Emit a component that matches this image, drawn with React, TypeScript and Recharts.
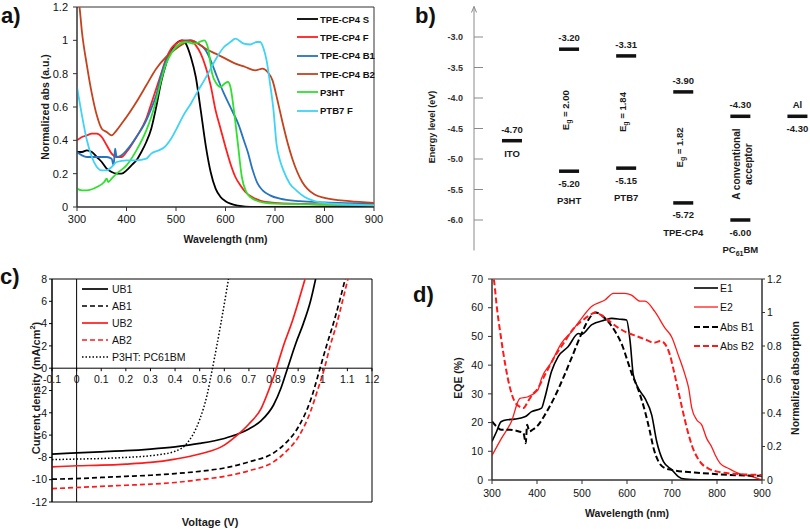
import React from "react";
import {
  LineChart,
  Line,
  ScatterChart,
  Scatter,
  XAxis,
  YAxis,
  Legend,
  ReferenceArea,
  ReferenceLine
} from "recharts";

const FONT = "'Liberation Sans', Arial, Helvetica, sans-serif";

type Pair = [number, number];

// ---------- a) normalized absorption ----------
const wlTicks = [300, 400, 500, 600, 700, 800, 900];
const absTicks = [0, 0.2, 0.4, 0.6, 0.8, 1, 1.2];
const filmNames = ["TPE-CP4 S", "TPE-CP4 F", "TPE-CP4 B1", "TPE-CP4 B2", "P3HT", "PTB7 F"];

const absTpeS: Pair[] = [
  [300, 0.33], [310, 0.33], [320, 0.34], [330, 0.33], [340, 0.3], [350, 0.27], [360, 0.23],
  [370, 0.21], [380, 0.2], [390, 0.2], [400, 0.22], [410, 0.25], [420, 0.28], [430, 0.33],
  [440, 0.39], [450, 0.47], [460, 0.6], [470, 0.75], [480, 0.86], [490, 0.94], [500, 0.98],
  [512, 1.0], [520, 0.98], [530, 0.9], [540, 0.78], [550, 0.58], [560, 0.37], [570, 0.21],
  [580, 0.11], [590, 0.06], [600, 0.035], [610, 0.02], [625, 0.008], [640, 0.002], [660, 0],
  [750, 0], [900, 0]
];
const absTpeF: Pair[] = [
  [300, 0.4], [310, 0.42], [320, 0.43], [330, 0.44], [340, 0.44], [350, 0.42], [360, 0.37],
  [370, 0.32], [380, 0.3], [390, 0.3], [400, 0.33], [420, 0.42], [440, 0.53], [450, 0.62],
  [460, 0.71], [470, 0.8], [480, 0.89], [490, 0.95], [500, 0.98], [515, 1.0], [527, 1.0],
  [540, 0.97], [550, 0.92], [560, 0.84], [570, 0.73], [580, 0.58], [590, 0.47], [600, 0.36],
  [610, 0.26], [620, 0.18], [630, 0.13], [640, 0.09], [660, 0.05], [680, 0.03], [700, 0.025],
  [800, 0.015], [900, 0.01]
];
const absTpeB1: Pair[] = [
  [300, 0.33], [310, 0.31], [320, 0.3], [340, 0.3], [360, 0.3], [370, 0.29], [374, 0.25],
  [377, 0.35], [380, 0.3], [390, 0.31], [400, 0.34], [420, 0.42], [440, 0.52], [450, 0.59],
  [460, 0.67], [470, 0.79], [480, 0.88], [490, 0.93], [500, 0.96], [515, 0.99], [530, 1.0],
  [545, 0.98], [560, 0.94], [570, 0.88], [583, 0.78], [597, 0.68], [613, 0.58], [627, 0.49],
  [637, 0.4], [645, 0.33], [655, 0.22], [665, 0.14], [675, 0.1], [690, 0.07], [710, 0.05],
  [750, 0.035], [800, 0.028], [900, 0.02]
];
const absTpeB2: Pair[] = [
  [300, 1.25], [305, 1.2], [310, 1.05], [320, 0.85], [330, 0.68], [340, 0.55], [350, 0.47],
  [360, 0.45], [370, 0.43], [380, 0.46], [390, 0.5], [400, 0.54], [420, 0.63], [440, 0.73],
  [460, 0.83], [480, 0.9], [500, 0.95], [515, 0.98], [530, 1.0], [545, 0.98], [560, 0.95],
  [580, 0.92], [600, 0.89], [620, 0.86], [640, 0.84], [660, 0.82], [675, 0.83], [685, 0.81],
  [695, 0.76], [705, 0.64], [715, 0.51], [725, 0.39], [735, 0.29], [745, 0.21], [755, 0.15],
  [765, 0.11], [780, 0.075], [800, 0.055], [850, 0.035], [900, 0.025]
];
const absP3ht: Pair[] = [
  [300, 0.11], [310, 0.1], [320, 0.1], [340, 0.12], [355, 0.15], [360, 0.17], [363, 0.15],
  [370, 0.17], [380, 0.2], [400, 0.25], [420, 0.34], [440, 0.46], [450, 0.54], [460, 0.64],
  [470, 0.76], [480, 0.86], [490, 0.92], [500, 0.96], [520, 0.99], [537, 0.98], [557, 1.0],
  [565, 0.95], [573, 0.8], [582, 0.74], [590, 0.72], [598, 0.74], [605, 0.75], [610, 0.72],
  [617, 0.58], [625, 0.38], [633, 0.18], [642, 0.09], [650, 0.06], [677, 0.026], [700, 0.02],
  [800, 0.015], [900, 0.01]
];
const absPtb7: Pair[] = [
  [300, 0.72], [310, 0.55], [320, 0.4], [330, 0.3], [340, 0.24], [350, 0.22], [360, 0.22],
  [370, 0.24], [380, 0.27], [400, 0.28], [420, 0.28], [440, 0.29], [450, 0.32], [465, 0.34],
  [477, 0.36], [490, 0.41], [503, 0.48], [515, 0.55], [530, 0.62], [545, 0.7], [557, 0.76],
  [570, 0.83], [583, 0.9], [597, 0.96], [610, 0.99], [620, 1.01], [637, 0.98], [650, 0.975],
  [663, 0.99], [670, 0.99], [677, 0.95], [683, 0.88], [690, 0.74], [697, 0.58], [703, 0.38],
  [710, 0.28], [717, 0.22], [730, 0.14], [743, 0.1], [760, 0.06], [780, 0.035], [800, 0.025],
  [850, 0.015], [900, 0.01]
];

// ---------- b) energy levels ----------
const levelNames = ["ITO", "P3HT", "PTB7", "TPE-CP4", "PC61BM", "Al"];
const lumoLevels = [null, -3.2, -3.31, -3.9, -4.3, null];
const homoLevels = [null, -5.2, -5.15, -5.72, -6.0, null];
const electrodeLevels = [-4.7, null, null, null, null, -4.3];
const acceptorNote = ["A conventional", "acceptor"];
const energyTicks = [-3.0, -3.5, -4.0, -4.5, -5.0, -5.5, -6.0];

// ---------- c) J-V ----------
const voltTicks = [-0.1, 0, 0.1, 0.2, 0.3, 0.4, 0.5, 0.6, 0.7, 0.8, 0.9, 1.0, 1.1, 1.2];
const currentTicks = [-12, -10, -8, -6, -4, -2, 0, 2, 4, 6, 8];
const deviceNames = ["UB1", "AB1", "UB2", "AB2", "P3HT: PC61BM"];

const jvUB1: Pair[] = [
  [-0.1, -7.7], [0, -7.6], [0.1, -7.5], [0.2, -7.4], [0.3, -7.25], [0.4, -7.05], [0.5, -6.75],
  [0.6, -6.3], [0.65, -5.95], [0.7, -5.45], [0.75, -4.7], [0.8, -3.3], [0.83, -1.8], [0.857, 0],
  [0.89, 2.2], [0.921, 4], [0.95, 6], [0.971, 8]
];
const jvAB1: Pair[] = [
  [-0.1, -9.95], [0, -9.9], [0.1, -9.8], [0.2, -9.7], [0.3, -9.6], [0.4, -9.45], [0.5, -9.25],
  [0.6, -8.95], [0.7, -8.4], [0.8, -7.6], [0.85, -6.7], [0.9, -5.3], [0.95, -2.9], [0.989, 0],
  [1.015, 2], [1.043, 4], [1.068, 6], [1.091, 8]
];
const jvUB2: Pair[] = [
  [-0.1, -8.85], [0, -8.75], [0.1, -8.7], [0.2, -8.6], [0.3, -8.45], [0.4, -8.15], [0.5, -7.7],
  [0.6, -6.9], [0.65, -6.05], [0.7, -5.0], [0.75, -3.6], [0.78, -2.0], [0.812, 0], [0.84, 2],
  [0.873, 4], [0.9, 5.9], [0.928, 8]
];
const jvAB2: Pair[] = [
  [-0.1, -10.8], [0, -10.7], [0.1, -10.6], [0.2, -10.5], [0.3, -10.4], [0.4, -10.25], [0.5, -10.0],
  [0.6, -9.7], [0.7, -9.2], [0.8, -8.4], [0.85, -7.5], [0.9, -6.2], [0.95, -3.9], [0.98, -1.9],
  [1.007, 0], [1.03, 2], [1.057, 4], [1.08, 6], [1.102, 8]
];
const jvP3htPcbm: Pair[] = [
  [-0.1, -8.2], [0, -8.15], [0.1, -8.1], [0.2, -8.0], [0.3, -7.85], [0.4, -7.45], [0.45, -6.7],
  [0.5, -4.6], [0.53, -2.4], [0.552, 0], [0.586, 4], [0.617, 8]
];

// ---------- d) EQE ----------
const eqeTicks = [0, 10, 20, 30, 40, 50, 60, 70];
const eqeNames = ["E1", "E2", "Abs B1", "Abs B2"];

const eqeE1: Pair[] = [
  [300, 13.4], [310, 16.8], [320, 20.3], [335, 21], [350, 21.2], [373, 22], [388, 23.8],
  [410, 25], [417, 28.4], [432, 37.7], [447, 43], [469, 46.4], [492, 51], [499, 50.7],
  [521, 54], [551, 55.7], [566, 56.3], [585, 56], [599, 55.7], [607, 48.2], [614, 36.6],
  [625, 32], [640, 28.4], [655, 22.6], [666, 13.4], [681, 6.4], [700, 3.5], [714, 1.2],
  [729, 0.3], [760, 0.1], [900, 0]
];
const eqeE2: Pair[] = [
  [300, 8.5], [321, 14.5], [343, 20.3], [362, 28.4], [380, 29], [402, 31.3], [410, 35.4],
  [432, 41], [454, 47.6], [477, 51.7], [499, 56.3], [521, 60.4], [551, 62.7], [570, 65],
  [595, 65], [610, 64.4], [629, 62.3], [640, 62.3], [662, 58.6], [685, 52.8], [699, 49.9],
  [714, 43.5], [729, 36.6], [737, 32], [744, 25], [755, 20.9], [766, 19.2], [777, 14.5],
  [788, 11.6], [796, 8.7], [807, 5.8], [826, 4], [848, 2.3], [878, 1.2], [900, 0]
];
const absB1: Pair[] = [
  [300, 0.35], [310, 0.32], [320, 0.3], [340, 0.3], [360, 0.29], [370, 0.28], [375, 0.22],
  [378, 0.33], [383, 0.29], [390, 0.3], [400, 0.32], [420, 0.4], [440, 0.5], [460, 0.62],
  [480, 0.75], [500, 0.88], [515, 0.96], [530, 1.0], [545, 0.98], [560, 0.94], [575, 0.88],
  [590, 0.8], [600, 0.72], [610, 0.64], [625, 0.54], [640, 0.41], [650, 0.3], [660, 0.18],
  [670, 0.11], [685, 0.07], [700, 0.06], [750, 0.045], [800, 0.035], [850, 0.028], [900, 0.025]
];
const absB2: Pair[] = [
  [300, 1.25], [305, 1.18], [310, 1.05], [320, 0.85], [330, 0.68], [340, 0.55], [350, 0.47],
  [360, 0.44], [370, 0.43], [380, 0.47], [390, 0.51], [400, 0.54], [420, 0.64], [440, 0.74],
  [460, 0.82], [480, 0.9], [500, 0.95], [515, 0.98], [530, 1.0], [545, 0.98], [560, 0.95],
  [580, 0.91], [600, 0.88], [620, 0.86], [640, 0.84], [660, 0.82], [675, 0.83], [685, 0.81],
  [695, 0.75], [705, 0.64], [715, 0.52], [725, 0.4], [735, 0.29], [745, 0.2], [755, 0.14],
  [765, 0.1], [780, 0.07], [800, 0.05], [850, 0.035], [900, 0.03]
];

const toXY = (rows: Pair[]) => rows.map(([x, y]) => ({ x, y }));
const fmt1 = (v: number) => String(Number(v.toFixed(1)));

const tickFont = (size: number) => ({ fontSize: size, fill: "#111", fontFamily: FONT });

// axis title drawn at a fixed spot of the chart box
function title(text: React.ReactNode, x: number, y: number, vertical = false, size = 10.5) {
  return {
    content: () => (
      <text
        x={x}
        y={y}
        transform={vertical ? `rotate(-90 ${x} ${y})` : undefined}
        textAnchor="middle"
        dominantBaseline="central"
        fontFamily={FONT}
        fontWeight={700}
        fontSize={size}
        fill="#1a1a1a"
      >
        {text}
      </text>
    )
  };
}

const byOrder = (order: string[]) => (item: any) => order.indexOf(String(item.value));

function legendContent(order: string[], lineW: number, gap: number, rowH: number, size: number, bold: boolean) {
  return (props: any) => {
    const items = [...(props.payload || [])].sort(
      (a: any, b: any) => order.indexOf(String(a.value)) - order.indexOf(String(b.value))
    );
    return (
      <div style={{ fontFamily: FONT, fontSize: size, fontWeight: bold ? 700 : 400, color: "#111" }}>
        {items.map((e: any, i: number) => (
          <div key={i} style={{ display: "flex", alignItems: "center", height: rowH, whiteSpace: "nowrap" }}>
            <svg width={lineW} height={6} style={{ display: "block" }}>
              <line
                x1={0}
                y1={3}
                x2={lineW}
                y2={3}
                stroke={e.color}
                strokeWidth={e.payload?.strokeWidth ?? 1.6}
                strokeDasharray={e.payload?.strokeDasharray}
              />
            </svg>
            <span style={{ marginLeft: gap }}>{e.value}</span>
          </div>
        ))}
      </div>
    );
  };
}

function PanelA() {
  return (
    <LineChart width={405} height={265} margin={{ top: 7, right: 31, bottom: 0, left: 0 }}>
      <XAxis
        type="number"
        dataKey="x"
        domain={[300, 900]}
        ticks={wlTicks}
        interval={0}
        allowDataOverflow
        height={58}
        tickSize={4}
        tickMargin={4}
        stroke="#333"
        tick={tickFont(11)}
        label={title("Wavelength (nm)", 225.5, 239)}
      />
      <YAxis
        type="number"
        domain={[0, 1.2]}
        ticks={absTicks}
        interval={0}
        allowDataOverflow
        width={77}
        tickSize={4}
        tickMargin={5}
        stroke="#333"
        tick={tickFont(11)}
        tickFormatter={fmt1}
        label={title("Normalized abs (a.u.)", 45, 107, true)}
      />
      <ReferenceArea x1={300} x2={900} y1={0} y2={1.2} fill="none" stroke="#333" ifOverflow="visible" />
      <Line data={toXY(absTpeS)} dataKey="y" name={filmNames[0]} type="monotone" stroke="#000" strokeWidth={1.8} dot={false} isAnimationActive={false} />
      <Line data={toXY(absTpeF)} dataKey="y" name={filmNames[1]} type="monotone" stroke="#ff1f1f" strokeWidth={1.8} dot={false} isAnimationActive={false} />
      <Line data={toXY(absTpeB1)} dataKey="y" name={filmNames[2]} type="monotone" stroke="#2673bf" strokeWidth={1.8} dot={false} isAnimationActive={false} />
      <Line data={toXY(absTpeB2)} dataKey="y" name={filmNames[3]} type="monotone" stroke="#c4421c" strokeWidth={1.8} dot={false} isAnimationActive={false} />
      <Line data={toXY(absP3ht)} dataKey="y" name={filmNames[4]} type="monotone" stroke="#2fe02f" strokeWidth={1.8} dot={false} isAnimationActive={false} />
      <Line data={toXY(absPtb7)} dataKey="y" name={filmNames[5]} type="monotone" stroke="#3fd3f7" strokeWidth={1.8} dot={false} isAnimationActive={false} />
      <Legend
        layout="vertical"
        align="center"
        verticalAlign="middle"
        itemSorter={byOrder(filmNames)}
        wrapperStyle={{ left: 297, top: 10, width: "auto" }}
        content={legendContent(filmNames, 21, 2, 18.3, 9.5, true)}
      />
    </LineChart>
  );
}

// ---------- b) helpers ----------
const levelText = { fontFamily: FONT, fontWeight: 700, fontSize: 9.5, fill: "#1a1a1a" };

function nameText(name: string) {
  if (name === "PC61BM") {
    return (
      <>
        PC<tspan dy={3} fontSize={7}>61</tspan>
        <tspan dy={-3}>BM</tspan>
      </>
    );
  }
  return name;
}

function Bar({ cx, cy }: { cx: number; cy: number }) {
  return <rect x={cx - 10} y={cy - 1.75} width={20} height={3.5} fill="#111" />;
}

function LumoMark(props: any) {
  const { cx, cy, payload } = props;
  return (
    <g>
      <Bar cx={cx} cy={cy} />
      <text x={cx} y={cy - 8} textAnchor="middle" {...levelText}>{payload.e.toFixed(2)}</text>
    </g>
  );
}

function HomoMark(props: any) {
  const { cx, cy, payload } = props;
  return (
    <g>
      <Bar cx={cx} cy={cy} />
      <text x={cx} y={cy + 15.5} textAnchor="middle" {...levelText}>{payload.e.toFixed(2)}</text>
      <text x={cx} y={cy + 33} textAnchor="middle" {...levelText}>{nameText(payload.name)}</text>
    </g>
  );
}

function ElectrodeMark(props: any) {
  const { cx, cy, payload } = props;
  const value = payload.e.toFixed(2);
  const above = payload.pos === 0 ? value : payload.name;
  const below = payload.pos === 0 ? payload.name : value;
  return (
    <g>
      <Bar cx={cx} cy={cy} />
      <text x={cx} y={cy - 8} textAnchor="middle" {...levelText}>{above}</text>
      <text x={cx} y={cy + 16} textAnchor="middle" {...levelText}>{below}</text>
    </g>
  );
}

function GapMark(props: any) {
  const { cx, cy, payload } = props;
  if (payload.note) {
    return (
      <g>
        {payload.note.map((line: string, i: number) => {
          const x = cx - 4 + i * 12;
          const y = cy - 4;
          return (
            <text key={i} x={x} y={y} transform={`rotate(-90 ${x} ${y})`} textAnchor="middle" dominantBaseline="central" {...levelText} fontSize={10}>
              {line}
            </text>
          );
        })}
      </g>
    );
  }
  const x = cx - 4;
  return (
    <text x={x} y={cy} transform={`rotate(-90 ${x} ${cy})`} textAnchor="middle" dominantBaseline="central" {...levelText}>
      E<tspan dy={2.5} fontSize={7}>g</tspan>
      <tspan dy={-2.5}>{` = ${payload.gap}`}</tspan>
    </text>
  );
}

function EnergyTick(props: any) {
  const { x, y, payload } = props;
  return (
    <g>
      <line x1={x} x2={x + 9} y1={y} y2={y} stroke="#8a8a8a" />
      <text x={x - 11} y={y} textAnchor="end" dominantBaseline="central" fontFamily={FONT} fontWeight={700} fontSize={9} fill="#333">
        {payload.value.toFixed(1)}
      </text>
    </g>
  );
}

function PanelB() {
  const lumoPts = levelNames
    .map((name, pos) => ({ pos, name, e: lumoLevels[pos] as number }))
    .filter((d) => d.e != null);
  const homoPts = levelNames
    .map((name, pos) => ({ pos, name, e: homoLevels[pos] as number }))
    .filter((d) => d.e != null);
  const electrodePts = levelNames
    .map((name, pos) => ({ pos, name, e: electrodeLevels[pos] as number }))
    .filter((d) => d.e != null);
  const gapPts = lumoPts.map((d, i) => {
    const homo = homoPts[i].e;
    const isAcceptor = d.name === "PC61BM";
    return {
      pos: d.pos,
      e: (d.e + homo) / 2,
      gap: (d.e - homo).toFixed(2),
      note: isAcceptor ? acceptorNote : null
    };
  });

  return (
    <ScatterChart width={405} height={265} margin={{ top: 6.5, right: 0, bottom: 14.5, left: 0 }}>
      <XAxis type="number" dataKey="pos" domain={[-0.665, 5.22]} hide />
      <YAxis
        type="number"
        dataKey="e"
        domain={[-6.5, -2.5]}
        ticks={energyTicks}
        interval={0}
        width={69}
        tickLine={false}
        tickSize={0}
        tickMargin={0}
        stroke="#8a8a8a"
        tick={<EnergyTick />}
        label={{
          content: (p: any) => {
            const vb = p.viewBox || { x: 0, y: 6.5, width: 69, height: 244 };
            const ax = vb.x + vb.width;
            return (
              <g>
                <path d={`M${ax - 2.5},${vb.y + 6} L${ax},${vb.y} L${ax + 2.5},${vb.y + 6}`} fill="none" stroke="#8a8a8a" />
                <text x={27} y={127} transform="rotate(-90 27 127)" textAnchor="middle" dominantBaseline="central" fontFamily={FONT} fontWeight={700} fontSize={9} fill="#1a1a1a">
                  Energy level (eV)
                </text>
              </g>
            );
          }
        }}
      />
      <Scatter data={lumoPts} shape={<LumoMark />} isAnimationActive={false} />
      <Scatter data={homoPts} shape={<HomoMark />} isAnimationActive={false} />
      <Scatter data={electrodePts} shape={<ElectrodeMark />} isAnimationActive={false} />
      <Scatter data={gapPts} shape={<GapMark />} isAnimationActive={false} />
    </ScatterChart>
  );
}

// ---------- c) ----------
const jvTop = 14;
const jvPlotH = 223;
const jvMin = -12;
const jvMax = 8;

function ZeroLineTick(props: any) {
  const { x, payload } = props;
  const y0 = jvTop + (jvMax / (jvMax - jvMin)) * jvPlotH;
  return (
    <g>
      <line x1={x} x2={x} y1={y0} y2={y0 + 3} stroke="#000" />
      <text x={x} y={y0 + 10.5} textAnchor="middle" dominantBaseline="central" fontFamily={FONT} fontSize={10.5} fill="#111">
        {fmt1(payload.value)}
      </text>
    </g>
  );
}

function PanelC() {
  return (
    <LineChart width={405} height={264} margin={{ top: jvTop, right: 33, bottom: 0, left: 0 }}>
      <XAxis
        type="number"
        dataKey="x"
        domain={[-0.1, 1.2]}
        ticks={voltTicks}
        interval={0}
        allowDataOverflow
        height={27}
        axisLine={false}
        tickLine={false}
        tick={<ZeroLineTick />}
        label={title("Voltage (V)", 210, 257, false, 11)}
      />
      <YAxis
        type="number"
        domain={[jvMin, jvMax]}
        ticks={currentTicks}
        interval={0}
        allowDataOverflow
        width={52}
        tickSize={3}
        tickMargin={2}
        stroke="#000"
        tick={tickFont(10.5)}
        label={title(
          <>
            Current density (mA/cm<tspan dy={-4} fontSize={7.5}>2</tspan>
            <tspan dy={4}>)</tspan>
          </>,
          36,
          123,
          true,
          11
        )}
      />
      <ReferenceArea x1={-0.1} x2={1.2} y1={jvMin} y2={jvMax} fill="none" stroke="#000" ifOverflow="visible" />
      <ReferenceLine y={0} stroke="#000" />
      <ReferenceLine x={0} stroke="#000" />
      <Line data={toXY(jvUB1)} dataKey="y" name={deviceNames[0]} type="monotone" stroke="#000" strokeWidth={1.7} dot={false} isAnimationActive={false} />
      <Line data={toXY(jvAB1)} dataKey="y" name={deviceNames[1]} type="monotone" stroke="#000" strokeWidth={1.7} strokeDasharray="5 3" dot={false} isAnimationActive={false} />
      <Line data={toXY(jvUB2)} dataKey="y" name={deviceNames[2]} type="monotone" stroke="#ff1a1a" strokeWidth={1.7} dot={false} isAnimationActive={false} />
      <Line data={toXY(jvAB2)} dataKey="y" name={deviceNames[3]} type="monotone" stroke="#ff1a1a" strokeWidth={1.7} strokeDasharray="5 3" dot={false} isAnimationActive={false} />
      <Line data={toXY(jvP3htPcbm)} dataKey="y" name={deviceNames[4]} type="monotone" stroke="#000" strokeWidth={1.5} strokeDasharray="1.5 2" dot={false} isAnimationActive={false} />
      <Legend
        layout="vertical"
        align="center"
        verticalAlign="middle"
        itemSorter={byOrder(deviceNames)}
        wrapperStyle={{ left: 82, top: 16, width: "auto" }}
        content={legendContent(deviceNames, 26, 4, 16.8, 10.5, false)}
      />
    </LineChart>
  );
}

// ---------- d) ----------
function PanelD() {
  return (
    <LineChart width={405} height={264} margin={{ top: 14, right: 0, bottom: 0, left: 0 }}>
      <XAxis
        type="number"
        dataKey="x"
        domain={[300, 900]}
        ticks={wlTicks}
        interval={0}
        allowDataOverflow
        height={49}
        tickSize={4}
        tickMargin={6}
        stroke="#333"
        tick={tickFont(10.5)}
        label={title("Wavelength (nm)", 222, 248)}
      />
      <YAxis
        yAxisId="eqe"
        type="number"
        domain={[0, 70]}
        ticks={eqeTicks}
        interval={0}
        allowDataOverflow
        width={87}
        tickSize={4}
        tickMargin={5}
        stroke="#333"
        tick={tickFont(10.5)}
        label={title("EQE (%)", 53, 113, true)}
      />
      <YAxis
        yAxisId="abs"
        orientation="right"
        type="number"
        domain={[0, 1.2]}
        ticks={absTicks}
        interval={0}
        allowDataOverflow
        width={48}
        tickSize={3}
        tickMargin={2}
        stroke="#333"
        tick={tickFont(10.5)}
        tickFormatter={fmt1}
        label={title("Normalized absorption", 390, 113, true)}
      />
      <ReferenceArea yAxisId="eqe" x1={300} x2={900} y1={0} y2={70} fill="none" stroke="#333" ifOverflow="visible" />
      <Line yAxisId="eqe" data={toXY(eqeE1)} dataKey="y" name={eqeNames[0]} type="monotone" stroke="#000" strokeWidth={1.6} dot={false} isAnimationActive={false} />
      <Line yAxisId="eqe" data={toXY(eqeE2)} dataKey="y" name={eqeNames[1]} type="monotone" stroke="#ff1a1a" strokeWidth={1.3} dot={false} isAnimationActive={false} />
      <Line yAxisId="abs" data={toXY(absB1)} dataKey="y" name={eqeNames[2]} type="monotone" stroke="#000" strokeWidth={2} strokeDasharray="6 3" dot={false} isAnimationActive={false} />
      <Line yAxisId="abs" data={toXY(absB2)} dataKey="y" name={eqeNames[3]} type="monotone" stroke="#ff1a1a" strokeWidth={2} strokeDasharray="6 3" dot={false} isAnimationActive={false} />
      <Legend
        layout="vertical"
        align="center"
        verticalAlign="middle"
        itemSorter={byOrder(eqeNames)}
        wrapperStyle={{ left: 289, top: 13, width: "auto" }}
        content={legendContent(eqeNames, 24, 2, 19.5, 10.5, false)}
      />
    </LineChart>
  );
}

const panelLetter = { fontFamily: FONT, fontWeight: 700, fontSize: 22, fill: "#111" };

export default function App() {
  return (
    <div style={{ position: "absolute", left: 0, top: 0, width: 810, height: 529, background: "#fff", fontFamily: FONT }}>
      <div style={{ position: "absolute", left: 0, top: 0 }}>
        <PanelA />
      </div>
      <div style={{ position: "absolute", left: 405, top: 0 }}>
        <PanelB />
      </div>
      <div style={{ position: "absolute", left: 0, top: 265 }}>
        <PanelC />
      </div>
      <div style={{ position: "absolute", left: 405, top: 265 }}>
        <PanelD />
      </div>
      <svg width={810} height={529} style={{ position: "absolute", left: 0, top: 0, pointerEvents: "none" }}>
        <text x={1} y={23} {...panelLetter}>a)</text>
        <text x={415} y={23} {...panelLetter}>b)</text>
        <text x={0} y={284} {...panelLetter}>c)</text>
        <text x={413} y={302} {...panelLetter}>d)</text>
      </svg>
    </div>
  );
}
